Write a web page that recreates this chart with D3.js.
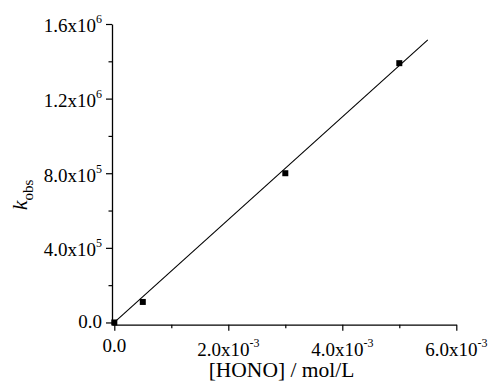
<!DOCTYPE html>
<html>
<head>
<meta charset="utf-8">
<script src="https://cdn.jsdelivr.net/npm/d3@7"></script>
<style>
  body { margin: 0; background: #fff; }
  svg { display: block; font-family: "Liberation Serif", "Times New Roman", serif; }
</style>
</head>
<body>
<div id="chart"></div>
<script>
(function(d3) {
  'use strict';

  // measured points
  var hono = [0, 0.5e-3, 3e-3, 5e-3];
  var kobs = [0, 1.1e5, 8.0e5, 1.39e6];

  // fitted straight line (ends)
  var fitX = [0, 5.5e-3];
  var fitY = [0, 1.515e6];

  // ticks: value, mantissa, exponent
  var xTicks = [0, 2e-3, 4e-3, 6e-3];
  var xTickText = ['0.0', '2.0x10', '4.0x10', '6.0x10'];
  var xTickExp = ['', '-3', '-3', '-3'];
  var xMinor = [1e-3, 3e-3, 5e-3];

  var yTicks = [0, 4e5, 8e5, 1.2e6, 1.6e6];
  var yTickText = ['0.0', '4.0x10', '8.0x10', '1.2x10', '1.6x10'];
  var yTickExp = ['', '5', '5', '6', '6'];
  var yMinor = [2e5, 6e5, 1.0e6, 1.4e6];

  var width = 488, height = 390;

  var x = d3.scaleLinear()
    .domain([-0.0404e-3, 6e-3])
    .range([112, 456.3]);

  var y = d3.scaleLinear()
    .domain([-1.2e4, 1.6e6])
    .range([324.7, 24]);

  var svg = d3.select('#chart').append('svg')
    .attr('width', width)
    .attr('height', height);

  // axes
  var xAxis = svg.append('g')
    .attr('transform', 'translate(0,' + y.range()[0] + ')')
    .call(d3.axisBottom(x).tickValues(xTicks).tickSize(6).tickSizeOuter(0).tickFormat(''));
  var xAxisMinor = svg.append('g')
    .attr('transform', 'translate(0,' + y.range()[0] + ')')
    .call(d3.axisBottom(x).tickValues(xMinor).tickSize(3.5).tickSizeOuter(0).tickFormat(''));

  var yAxis = svg.append('g')
    .attr('transform', 'translate(' + x.range()[0] + ',0)')
    .call(d3.axisLeft(y).tickValues(yTicks).tickSize(6).tickSizeOuter(0).tickFormat(''));
  var yAxisMinor = svg.append('g')
    .attr('transform', 'translate(' + x.range()[0] + ',0)')
    .call(d3.axisLeft(y).tickValues(yMinor).tickSize(3.5).tickSizeOuter(0).tickFormat(''));

  svg.selectAll('.domain').attr('stroke', '#000').attr('stroke-width', 1.3);
  svg.selectAll('.tick line').attr('stroke', '#000').attr('stroke-width', 1.2);
  xAxisMinor.select('.domain').remove();
  yAxisMinor.select('.domain').remove();

  // tick labels with superscript exponents
  xTicks.forEach(function(v, i) {
    var t = svg.append('text')
      .attr('x', x(v))
      .attr('y', xTickExp[i] ? 355.5 : 351.5)
      .attr('text-anchor', 'middle')
      .attr('font-size', 19)
      .attr('fill', '#000')
      .text(xTickText[i]);
    if (xTickExp[i]) {
      t.append('tspan').attr('dy', -9).attr('font-size', 12).text(xTickExp[i]);
    }
  });

  yTicks.forEach(function(v, i) {
    var t = svg.append('text')
      .attr('x', 102)
      .attr('y', y(v) + (yTickExp[i] ? 8.3 : 5.5))
      .attr('text-anchor', 'end')
      .attr('font-size', 19)
      .attr('fill', '#000')
      .text(yTickText[i]);
    if (yTickExp[i]) {
      t.append('tspan').attr('dy', -9).attr('font-size', 12).text(yTickExp[i]);
    }
  });

  // axis titles
  svg.append('text')
    .attr('x', 281.5)
    .attr('y', 376.5)
    .attr('text-anchor', 'middle')
    .attr('font-size', 21.5)
    .attr('fill', '#000')
    .text('[HONO] / mol/L');

  var yTitle = svg.append('text')
    .attr('transform', 'translate(27,195) rotate(-90)')
    .attr('text-anchor', 'middle')
    .attr('font-size', 22)
    .attr('fill', '#000');
  yTitle.append('tspan').attr('font-style', 'italic').text('k');
  yTitle.append('tspan').attr('dy', 6).attr('font-size', 15).text('obs');

  // fitted line
  var fit = fitX.map(function(v, i) { return {x: v, y: fitY[i]}; });
  svg.append('path')
    .datum(fit)
    .attr('d', d3.line().x(function(d) { return x(d.x); }).y(function(d) { return y(d.y); }))
    .attr('fill', 'none')
    .attr('stroke', '#000')
    .attr('stroke-width', 1.1);

  // data squares
  var pts = hono.map(function(v, i) { return {x: v, y: kobs[i]}; });
  svg.selectAll('rect.pt')
    .data(pts)
    .enter().append('rect')
    .attr('class', 'pt')
    .attr('x', function(d) { return x(d.x) - 3; })
    .attr('y', function(d) { return y(d.y) - 3; })
    .attr('width', 6)
    .attr('height', 6)
    .attr('fill', '#000');
})(window.d3);
</script>
</body>
</html>
